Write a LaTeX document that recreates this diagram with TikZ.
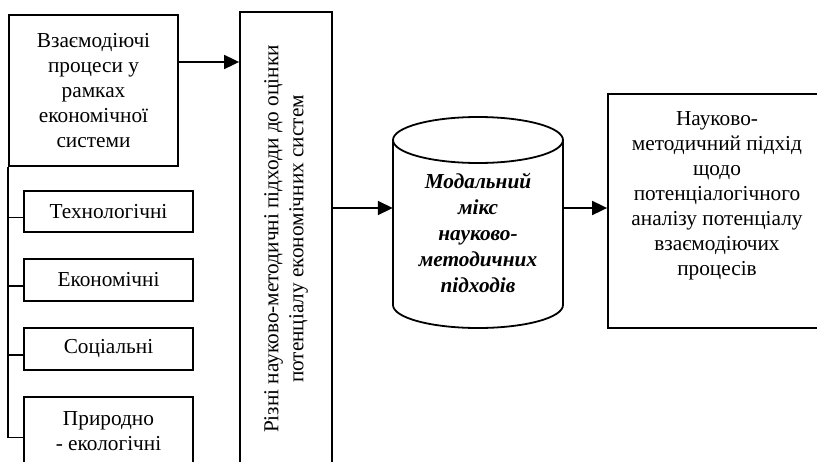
\documentclass[tikz,border=0pt]{standalone}
\usepackage{fontspec}
\setmainfont{Liberation Serif}
\usetikzlibrary{arrows.meta}
\begin{document}
\begin{tikzpicture}[x=1pt,y=-1pt,
  ln/.style={line width=1.8pt},
  box/.style={draw,line width=1.8pt,inner sep=0pt,align=center,font=\fontsize{21.3}{25}\selectfont},
  txt/.style={inner sep=0pt,align=center,font=\fontsize{21.3}{25}\selectfont},
  arr/.style={line width=1.8pt,-{Triangle[length=15pt,width=14pt]}}]
\useasboundingbox (0,0) rectangle (817,461);
\clip (0,0) rectangle (817,461);
% left column
\node[box, minimum width=169, minimum height=151] (top) at (93.5,90.5) {Взаємодіючі\\процеси у\\рамках\\економічної\\системи};
\node[box, minimum width=169, minimum height=41] (t1) at (108.5,211.5) {Технологічні};
\node[box, minimum width=169, minimum height=42] (t2) at (108.5,280) {Економічні};
\node[box, minimum width=169, minimum height=42] (t3) at (108.5,349) {Соціальні};
\node[box, minimum width=169, minimum height=69] (t4) at (108.5,431.5) {Природно\\- екологічні};
% bus
\draw[ln] (top.south west) -- ([yshift=-6pt]top.south west |- t4.west);
\foreach \n in {t1,t2,t3,t4}
  \draw[ln] ([yshift=-6pt]top.south west |- \n.west) -- ([yshift=-6pt]\n.west);
% vertical box
\node[draw, ln, minimum width=92, minimum height=454, inner sep=0pt] (vbox) at (286,239) {};
\node[txt, rotate=90] (vtext) at (vbox.center) {Різні науково-методичні підходи до оцінки\\потенціалу економічних систем};
% cylinder
\node[minimum width=170, minimum height=211, inner sep=0pt] (cyl) at (478,222.5) {};
\draw[ln] (393,140) -- (393,305) arc[start angle=180, end angle=360, x radius=85pt, y radius=23pt] -- (563,140);
\draw[ln] (478,140) ellipse [x radius=85pt, y radius=23pt];
\node[txt, font=\fontsize{21.3}{26}\selectfont\bfseries\itshape] (ctext) at (478,233) {Модальний\\мікс\\науково-\\методичних\\підходів};
% right box
\node[box, minimum width=218, minimum height=234] (rb) at (717,211) {};
\node[txt, anchor=north] (rtext) at (717,111) {Науково-\\методичний підхід\\щодо\\потенціалогічного\\аналізу потенціалу\\взаємодіючих\\процесів};
% arrows
\coordinate (m2) at (0,62);
\coordinate (m) at (0,208);
\draw[arr] (top.east |- m2) -- (vbox.west |- m2);
\draw[arr] (vbox.east |- m) -- (cyl.west |- m);
\draw[arr] (cyl.east |- m) -- (rb.west |- m);
\end{tikzpicture}
\end{document}
